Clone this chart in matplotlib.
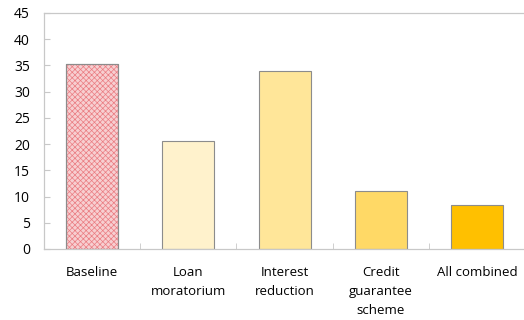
import matplotlib.pyplot as plt
import numpy as np

plt.rcParams['font.family'] = ['Open Sans', 'DejaVu Sans']

# scenarios and values
labels = ["Baseline", "Loan\nmoratorium", "Interest\nreduction",
          "Credit\nguarantee\nscheme", "All combined"]
values = [35.3, 20.6, 34.0, 11.1, 8.4]
colors = ["#f7cfd1", "#FFF2CC", "#FFE699", "#FFD966", "#FFC000"]

fig = plt.figure(figsize=(5.24, 3.2), dpi=100)
ax = fig.add_axes([44 / 524, 1 - 249 / 320, 1 - 44 / 524 + 0.002, 236 / 320])

x = np.arange(len(labels))
bars = ax.bar(x, values, width=0.54, color=colors, edgecolor="#8c8c8c", linewidth=0.8, zorder=2)

# fine red cross-hatch on the baseline bar
plt.rcParams['hatch.linewidth'] = 0.5
ax.bar(x[0], values[0], width=0.54, color="none", edgecolor="#e2454d",
       hatch="xxxxxx", linewidth=0, alpha=0.6, zorder=3)
ax.bar(x[0], values[0], width=0.54, color="none", edgecolor="#8c8c8c",
       linewidth=0.8, zorder=4)

ax.set_xlim(-0.5, len(labels) - 0.5)
ax.set_ylim(0, 45)
ax.set_yticks(range(0, 46, 5))

ax.set_xticks(x)
ax.set_xticklabels(labels, fontsize=9.5, linespacing=1.6, va="top")
ax.set_xticks(np.arange(0.5, len(labels) - 0.5, 1), minor=True)
ax.tick_params(axis="x", which="major", length=0, pad=12)
ax.tick_params(axis="x", which="minor", direction="in", length=4, color="#c8c8c8")
ax.tick_params(axis="y", direction="in", length=4, color="#c8c8c8", labelsize=10, pad=10)

for side in ["left", "top", "bottom"]:
    ax.spines[side].set_color("#c8c8c8")
    ax.spines[side].set_linewidth(0.9)
ax.spines["right"].set_visible(False)

fig.savefig("out.png", dpi=100)
